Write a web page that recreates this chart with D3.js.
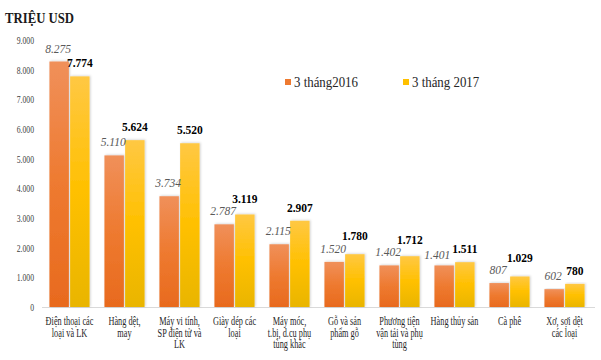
<!DOCTYPE html>
<html><head><meta charset="utf-8">
<script src="https://cdn.jsdelivr.net/npm/d3@7"></script>
<style>body{margin:0;background:#fff}svg{display:block}text{font-family:"Liberation Serif","Times New Roman",serif}</style>
</head><body><svg id="c" width="601" height="360"></svg>
<script>
const categories = [
  ["Điện thoại các","loại và LK"],
  ["Hàng dệt,","may"],
  ["Máy vi tính,","SP điện tử và","LK"],
  ["Giày dép các","loại"],
  ["Máy móc,","t.bị, d.cụ phụ","tùng khác"],
  ["Gỗ và sản","phẩm gỗ"],
  ["Phương tiện","vận tải và phụ","tùng"],
  ["Hàng thủy sản"],
  ["Cà phê"],
  ["Xơ, sợi dệt","các loại"]
];
const series = ["3 tháng2016","3 tháng 2017"];
const values2016 = [8275,5110,3734,2787,2115,1520,1402,1401,807,602];
const values2017 = [7774,5624,5520,3119,2907,1780,1712,1511,1029,780];
const yTicks = [0,1000,2000,3000,4000,5000,6000,7000,8000,9000];
const unitLabel = "TRIỆU USD";

const svg = d3.select("#c");
const defs = svg.append("defs");
const g1 = defs.append("linearGradient").attr("id","gO").attr("x1",0).attr("y1",0).attr("x2",0).attr("y2",1);
g1.append("stop").attr("offset","0%").attr("stop-color","#F0905A");
g1.append("stop").attr("offset","50%").attr("stop-color","#EE7A30");
g1.append("stop").attr("offset","100%").attr("stop-color","#E86A1E");
const g2 = defs.append("linearGradient").attr("id","gY").attr("x1",0).attr("y1",0).attr("x2",0).attr("y2",1);
g2.append("stop").attr("offset","0%").attr("stop-color","#FFC843");
g2.append("stop").attr("offset","50%").attr("stop-color","#FFC000");
g2.append("stop").attr("offset","100%").attr("stop-color","#E9B500");
const f = defs.append("filter").attr("id","sh").attr("x","-20%").attr("y","-5%").attr("width","150%").attr("height","110%");
f.append("feDropShadow").attr("dx",1).attr("dy",-0.5).attr("stdDeviation",0.8).attr("flood-color","#000").attr("flood-opacity",0.18);

const y = d3.scaleLinear().domain([0,9000]).range([307,40]);
const x0 = d3.scaleBand().domain(d3.range(categories.length)).range([42,592]).paddingInner(0.27).paddingOuter(0.135);
const x1 = d3.scaleBand().domain([0,1]).range([0,x0.bandwidth()]).paddingInner(0.06);

// baseline
svg.append("line").attr("x1",42).attr("x2",595).attr("y1",y(0)+0.5).attr("y2",y(0)+0.5).attr("stroke","#d9d9d9");

// y axis
const fmt = v => d3.format(",")(v).replace(/,/g,".");
const yAxis = d3.axisLeft(y).tickValues(yTicks).tickSize(0).tickPadding(0).tickFormat(fmt);
const ya = svg.append("g").attr("transform","translate(34,0)").call(yAxis).attr("font-family",null);
ya.select(".domain").remove();
ya.selectAll("text").attr("font-size",11).attr("fill","#404040")
  .attr("transform","scale(0.7,1)").attr("x",0);

// bars
const data = categories.map((c,i)=>({i, v:[values2016[i],values2017[i]]}));
const grp = svg.selectAll("g.grp").data(data).join("g").attr("class","grp").attr("transform",d=>`translate(${x0(d.i)},0)`);
grp.selectAll("rect").data(d=>d.v.map((v,k)=>({v,k}))).join("rect")
  .attr("x",d=>x1(d.k)).attr("width",x1.bandwidth())
  .attr("y",d=>y(d.v)).attr("height",d=>y(0)-y(d.v))
  .attr("fill",d=>d.k===0?"url(#gO)":"url(#gY)").attr("filter","url(#sh)");
grp.each(function(){
  const g = d3.select(this);
  const t = g.selectAll("text.val").data(d=>d.v.map((v,k)=>({v,k}))).join("text").attr("class","val")
    .attr("x",d=>x1(d.k)+x1.bandwidth()/2 - (d.k===0?1:0))
    .attr("y",d=>y(d.v)-9)
    .attr("text-anchor","middle").attr("font-size",11.5)
    .attr("font-style",d=>d.k===0?"italic":"normal")
    .attr("font-weight",d=>d.k===0?"normal":"bold")
    .attr("fill",d=>d.k===0?"#595959":"#000")
    .text(d=>fmt(d.v));
  // resolve collisions between the two labels of a group
  const nodes = t.nodes();
  const a = nodes[0].getBBox(), b = nodes[1].getBBox();
  const yA = +nodes[0].getAttribute("y"), yB = +nodes[1].getAttribute("y");
  const hOverlap = a.x + a.width + 2 - b.x;
  if (Math.abs(yA - yB) < 11 && hOverlap > 0) {
    if (yA - yB > 5) {
      nodes[1].setAttribute("y", Math.min(yB, yA - 12.5));
    } else {
      nodes[0].setAttribute("x", +nodes[0].getAttribute("x") - hOverlap);
      nodes[0].setAttribute("y", yA + 3);
    }
  }
});

// x labels
const xl = svg.append("g");
categories.forEach((lines,i)=>{
  const cx = x0(i)+x0.bandwidth()/2;
  lines.forEach((ln,j)=>{
    xl.append("text").attr("transform",`translate(${cx},${325+j*11.7}) scale(0.72,1)`)
      .attr("text-anchor","middle").attr("font-size",11.5).attr("fill","#262626").text(ln);
  });
});

// title
svg.append("text").attr("transform","translate(5,23) scale(0.85,1)").attr("font-size",15).attr("font-weight","bold").attr("fill","#1a1a1a").text(unitLabel);

// legend
const lg = svg.append("g");
const lx = [285,403];
series.forEach((s,k)=>{
  lg.append("rect").attr("x",lx[k]).attr("y",79).attr("width",6).attr("height",6).attr("fill",k===0?"#EE7A30":"#FFC000");
  lg.append("text").attr("transform",`translate(${lx[k]+9},87) scale(0.92,1)`).attr("font-size",14).attr("fill","#262626").text(s);
});
</script></body></html>
